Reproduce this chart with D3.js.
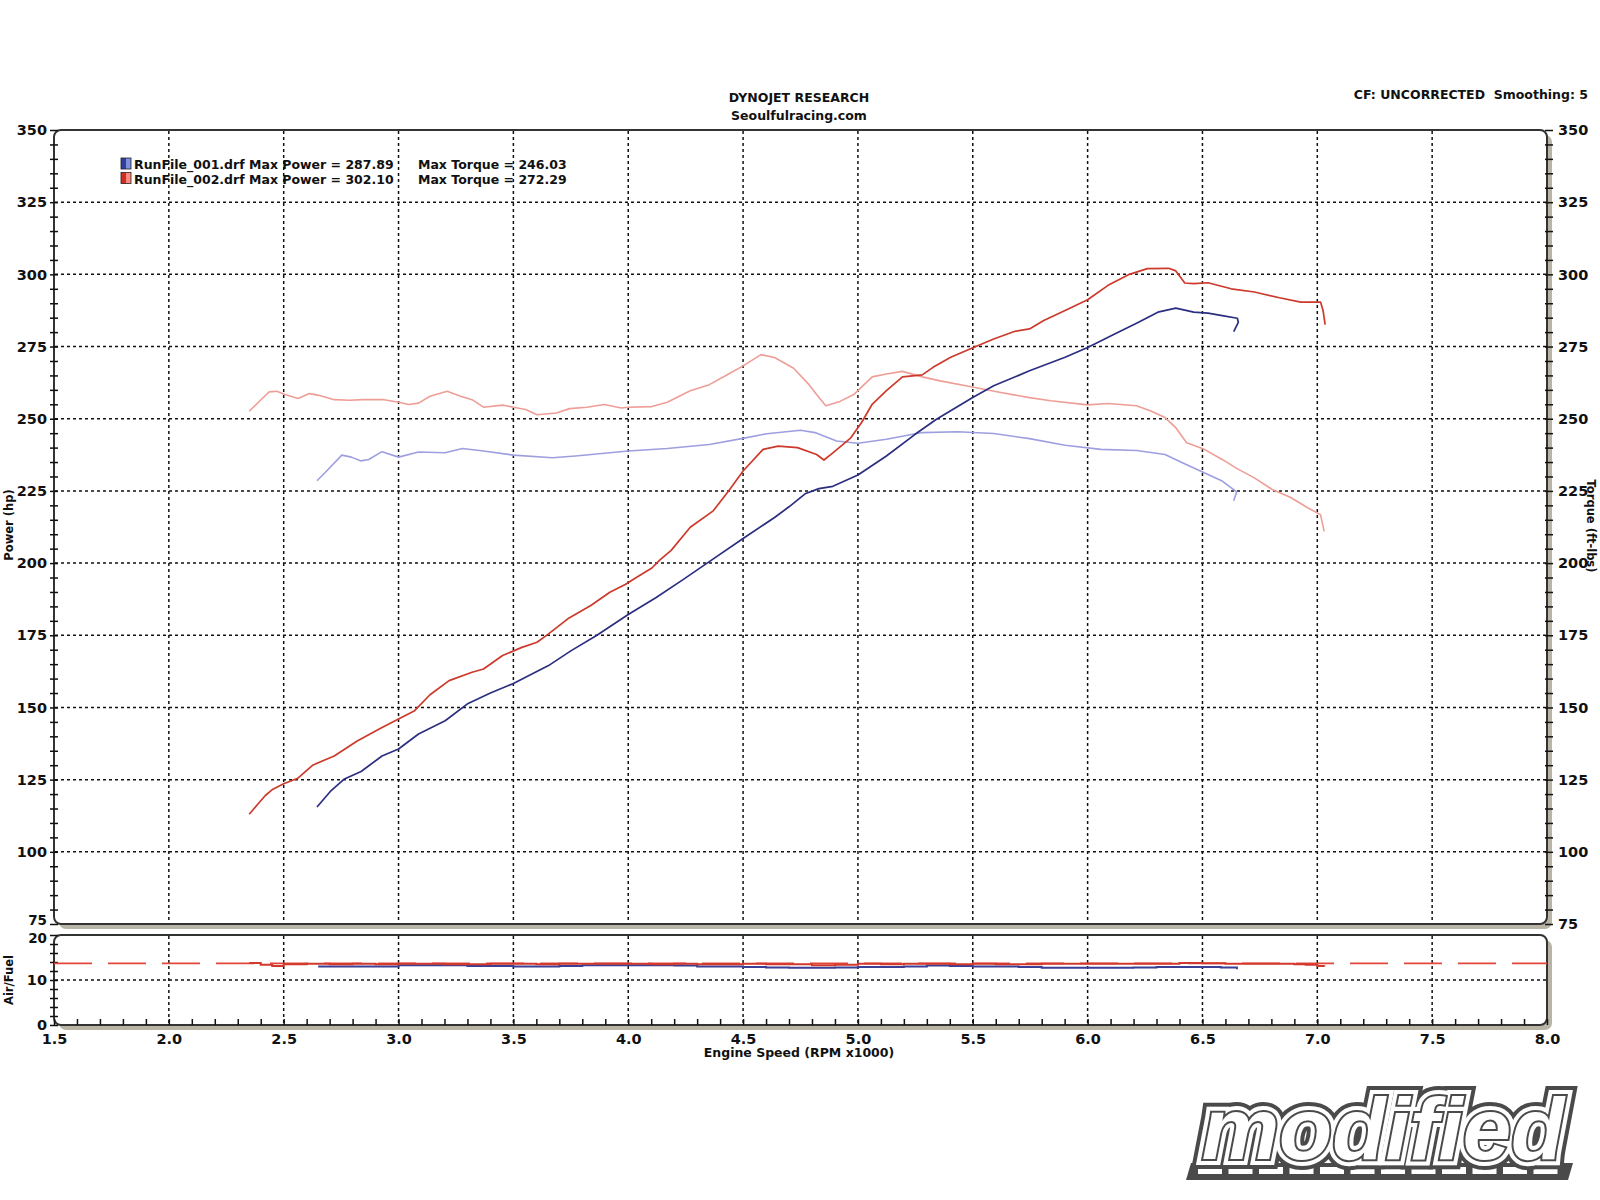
<!DOCTYPE html>
<html><head><meta charset="utf-8">
<script src="https://cdn.jsdelivr.net/npm/d3@7"></script>
<style>
body{margin:0;background:#fff}
svg{display:block}
text{font-family:"DejaVu Sans",Verdana,sans-serif;font-weight:bold;fill:#111}
</style>
</head><body>
<svg id="chart" width="1600" height="1200"></svg>
<script>
// ---------------- DATA ----------------
const titleLines = ["DYNOJET RESEARCH", "Seoulfulracing.com"];
const cfText = "CF: UNCORRECTED  Smoothing: 5";
const xTitle = "Engine Speed (RPM x1000)";
const yTitleLeft = "Power (hp)";
const yTitleRight = "Torque (ft-lbs)";
const afrTitle = "Air/Fuel";
const runNames = ["RunFile_001.drf", "RunFile_002.drf"];
const maxPower = ["287.89", "302.10"];
const maxTorque = ["246.03", "272.29"];
const logoText = "modified";

const rpmDomain = [1.5, 8.0];
const powerDomain = [75, 350];
const afrDomain = [0, 20];
const afrTarget = 13.7;

// [rpm x1000, hp]
const run1Power = [[2.645,115.5],[2.703,120.9],[2.762,125.1],[2.837,127.8],[2.928,133.2],[3.0,135.6],[3.087,140.8],[3.203,145.4],[3.303,151.4],[3.4,155],[3.5,158.3],[3.653,164.5],[3.75,169.6],[3.862,174.9],[4.0,182.2],[4.12,188],[4.237,194.2],[4.353,200.5],[4.5,208.5],[4.637,215.8],[4.7,219.5],[4.77,224],[4.83,225.8],[4.891,226.6],[5.0,230.5],[5.124,237.1],[5.249,244.6],[5.342,249.8],[5.498,257.3],[5.591,261.4],[5.747,266.6],[5.902,271.3],[6.0,274.7],[6.12,279.4],[6.213,283.1],[6.306,286.9],[6.384,288.3],[6.462,286.9],[6.524,286.6],[6.586,285.7],[6.652,284.8],[6.656,283.4],[6.636,280.2]];
const run2Power = [[2.35,113],[2.387,116.5],[2.42,119.5],[2.453,121.7],[2.5,123.6],[2.562,125.5],[2.628,130.1],[2.72,133.2],[2.82,138.4],[2.92,142.7],[3.0,146],[3.07,148.9],[3.137,154.4],[3.22,159.3],[3.32,162.2],[3.37,163.3],[3.453,168],[3.537,170.8],[3.603,172.6],[3.653,175.5],[3.737,180.7],[3.837,185.3],[3.92,189.9],[3.987,192.6],[4.037,195.1],[4.103,198.3],[4.137,201],[4.187,204.4],[4.27,212.4],[4.37,218.1],[4.437,225],[4.5,231.9],[4.587,239.4],[4.653,240.5],[4.737,240],[4.82,237.6],[4.852,235.7],[4.891,238.2],[4.969,243.4],[5.016,248.7],[5.062,255],[5.124,259.7],[5.194,264.5],[5.28,265.2],[5.327,267.8],[5.404,271.3],[5.498,274.5],[5.591,277.6],[5.684,280.3],[5.747,281.1],[5.809,284],[5.902,287.5],[6.0,291.2],[6.089,296.2],[6.182,300],[6.26,302],[6.353,302.1],[6.384,301.2],[6.423,297],[6.462,296.8],[6.524,297.1],[6.625,295],[6.726,293.9],[6.835,291.9],[6.928,290.4],[7.014,290.4],[7.025,287.5],[7.034,282.6]];
// [rpm x1000, ft-lbs]
const run1Torque = [[2.645,228.5],[2.687,231.9],[2.753,237.4],[2.795,236.7],[2.837,235.4],[2.87,235.9],[2.928,238.6],[3.0,236.7],[3.087,238.5],[3.203,238.2],[3.278,239.7],[3.37,238.8],[3.5,237.4],[3.67,236.5],[3.77,237.1],[4.0,238.8],[4.17,239.7],[4.353,241.1],[4.5,243.2],[4.603,244.8],[4.751,246.0],[4.813,245.2],[4.907,242.3],[5.0,241.5],[5.124,242.9],[5.28,245.2],[5.435,245.5],[5.591,244.9],[5.747,243.1],[5.902,240.8],[6.058,239.4],[6.213,239],[6.337,237.6],[6.415,234.7],[6.493,231.8],[6.586,228.4],[6.649,224.7],[6.636,221.6]];
const run2Torque = [[2.35,252.6],[2.40,256.5],[2.437,259.3],[2.47,259.5],[2.5,258.6],[2.562,257],[2.612,258.7],[2.653,258.1],[2.72,256.6],[2.787,256.4],[2.845,256.6],[2.937,256.6],[3.0,255.7],[3.045,254.9],[3.087,255.4],[3.137,257.8],[3.212,259.5],[3.27,257.8],[3.32,256.6],[3.37,254],[3.453,254.7],[3.5,254],[3.553,253.2],[3.603,251.4],[3.687,252],[3.745,253.5],[3.82,254],[3.895,254.9],[3.97,253.7],[4.0,254],[4.103,254.2],[4.17,255.7],[4.27,259.7],[4.353,261.8],[4.437,265.5],[4.5,268.3],[4.578,272.2],[4.637,271.2],[4.72,267.5],[4.787,261.8],[4.813,259.1],[4.86,254.5],[4.922,256],[4.984,258.5],[5.062,264.5],[5.124,265.5],[5.194,266.4],[5.28,264.5],[5.358,263.1],[5.498,261],[5.622,259.1],[5.747,257.3],[5.84,256.2],[6.0,254.8],[6.089,255.3],[6.213,254.5],[6.275,252.7],[6.337,250.4],[6.384,246.9],[6.431,241.7],[6.508,239.4],[6.586,235.9],[6.649,232.8],[6.726,229.5],[6.804,225.5],[6.882,222.8],[6.96,219.1],[7.014,216.8],[7.03,211]];
// [rpm x1000, air/fuel ratio]
const run1AFR = [[2.65,13.0],[2.8,13.0],[2.9,13.0],[3.0,13.3],[3.1,13.3],[3.2,13.3],[3.3,13.1],[3.4,13.1],[3.5,13.0],[3.6,13.0],[3.7,13.1],[3.8,13.3],[3.9,13.3],[4.0,13.3],[4.1,13.3],[4.2,13.2],[4.3,13.0],[4.4,13.0],[4.5,12.9],[4.6,12.8],[4.7,12.7],[4.8,12.7],[4.9,12.8],[5.0,12.9],[5.1,12.9],[5.2,13.0],[5.3,13.2],[5.4,13.1],[5.5,13.0],[5.6,13.0],[5.7,12.9],[5.8,12.7],[5.9,12.7],[6.0,12.7],[6.1,12.7],[6.2,12.8],[6.3,12.9],[6.4,12.9],[6.5,12.9],[6.58,12.8],[6.65,12.4]];
const run2AFR = [[2.35,13.8],[2.4,13.4],[2.45,13.1],[2.5,13.5],[2.6,13.6],[2.7,13.5],[2.8,13.6],[2.9,13.5],[3.0,13.6],[3.1,13.6],[3.2,13.5],[3.3,13.5],[3.4,13.6],[3.5,13.6],[3.6,13.5],[3.7,13.6],[3.8,13.6],[3.9,13.6],[4.0,13.6],[4.1,13.5],[4.2,13.6],[4.3,13.5],[4.4,13.5],[4.5,13.6],[4.6,13.5],[4.7,13.5],[4.8,13.3],[4.9,13.4],[5.0,13.6],[5.1,13.5],[5.2,13.6],[5.3,13.6],[5.4,13.5],[5.5,13.6],[5.6,13.5],[5.7,13.5],[5.8,13.6],[5.9,13.6],[6.0,13.6],[6.1,13.6],[6.2,13.6],[6.3,13.6],[6.4,13.8],[6.5,13.7],[6.6,13.6],[6.7,13.6],[6.8,13.6],[6.9,13.5],[6.95,13.4],[7.0,13.1],[7.03,13.0]];

const rpmMajor = d3.range(15, 81, 5).map(d => d / 10);
const rpmMinor = d3.range(15, 81, 1).map(d => d / 10);
const powerMajor = d3.range(75, 351, 25);
const powerMinor = d3.range(75, 351, 5);
const afrMajor = [0, 10, 20];
const afrMinor = d3.range(0, 21, 2);

// ---------------- LAYOUT ----------------
const svg = d3.select("#chart");
const L = 54, R = 1547, T = 130, B = 924, AT = 935, AB = 1025;
const x = d3.scaleLinear().domain(rpmDomain).range([L, R]);
const y = d3.scaleLinear().domain(powerDomain).range([B, T]);
const ya = d3.scaleLinear().domain(afrDomain).range([AB, AT]);
const shadow = "#b8b4a6", frame = "#333";

function panel(y0, y1) {
  svg.append("rect").attr("x", L + 5).attr("y", y0 + 5).attr("width", R - L).attr("height", y1 - y0)
    .attr("rx", 7).attr("fill", shadow);
  svg.append("rect").attr("x", L).attr("y", y0).attr("width", R - L).attr("height", y1 - y0)
    .attr("rx", 7).attr("fill", "#fff").attr("stroke", frame).attr("stroke-width", 2);
}
panel(T, B);
panel(AT, AB);

// grid
const dash = "3,3";
const gMain = svg.append("g");
gMain.selectAll(".vg").data(rpmMajor.slice(1, -1)).join("line")
  .attr("x1", d => x(d)).attr("x2", d => x(d)).attr("y1", T + 1).attr("y2", B - 1)
  .attr("stroke", "#111").attr("stroke-width", 1.5).attr("stroke-dasharray", dash);
gMain.selectAll(".hg").data(powerMajor.slice(1, -1)).join("line")
  .attr("x1", L + 1).attr("x2", R - 1).attr("y1", d => y(d)).attr("y2", d => y(d))
  .attr("stroke", "#111").attr("stroke-width", 1.5).attr("stroke-dasharray", dash);
const gAfr = svg.append("g");
gAfr.selectAll(".vg").data(rpmMajor.slice(1, -1)).join("line")
  .attr("x1", d => x(d)).attr("x2", d => x(d)).attr("y1", AT + 1).attr("y2", AB - 1)
  .attr("stroke", "#111").attr("stroke-width", 1.5).attr("stroke-dasharray", dash);
gAfr.selectAll(".hg").data([10]).join("line")
  .attr("x1", L + 1).attr("x2", R - 1).attr("y1", d => ya(d)).attr("y2", d => ya(d))
  .attr("stroke", "#111").attr("stroke-width", 1.5).attr("stroke-dasharray", dash);

// axes
function styleAxis(g, fs) {
  g.select(".domain").remove();
  g.selectAll("line").attr("stroke", "#111").attr("stroke-width", 1.5);
  g.selectAll("text").attr("font-size", fs).attr("font-family", "DejaVu Sans, Verdana, sans-serif")
    .attr("font-weight", "bold").attr("fill", "#111");
}
const isMaj = (arr) => d => arr.some(m => Math.abs(m - d) < 1e-6);
const left = svg.append("g").attr("transform", `translate(${L},0)`)
  .call(d3.axisLeft(y).tickValues(powerMinor).tickSize(4).tickPadding(3)
    .tickFormat(d => isMaj(powerMajor)(d) ? d : ""));
left.selectAll(".tick line").attr("x1", 4);
styleAxis(left, 14.5);
left.selectAll(".tick").filter(d => d === 75).select("text").attr("dy", "0.05em").attr("font-size", 13.5);

const right = svg.append("g").attr("transform", `translate(${R + 2},0)`)
  .call(d3.axisRight(y).tickValues(powerMinor).tickSize(4).tickPadding(5)
    .tickFormat(d => isMaj(powerMajor)(d) ? d : ""));
right.selectAll(".tick line").attr("x1", -4);
styleAxis(right, 14.5);

const afrAxis = svg.append("g").attr("transform", `translate(${L},0)`)
  .call(d3.axisLeft(ya).tickValues(afrMinor).tickSize(4).tickPadding(3)
    .tickFormat(d => isMaj(afrMajor)(d) ? d : ""));
afrAxis.selectAll(".tick line").attr("x1", 4);
styleAxis(afrAxis, 14.5);
afrAxis.selectAll(".tick").filter(d => d === 20).select("text").attr("dy", "0.55em").attr("font-size", 13.5);

const bottom = svg.append("g").attr("transform", `translate(0,${AB})`)
  .call(d3.axisBottom(x).tickValues(rpmMinor).tickSize(-6).tickPadding(9)
    .tickFormat(d => isMaj(rpmMajor)(d) ? d3.format(".1f")(d) : ""));
styleAxis(bottom, 14.5);
bottom.selectAll(".tick line").attr("y2", -6).attr("y1", 0);

const line = d3.line().x(d => x(d[0])).y(d => y(d[1]));
const lineA = d3.line().x(d => x(d[0])).y(d => ya(d[1])).curve(d3.curveStepAfter);

// curves
const curves = [
  {data: run2Torque, color: "#ee9e96", w: 1.6},
  {data: run1Torque, color: "#9d9fe0", w: 1.6},
  {data: run1Power, color: "#2c2e80", w: 1.7},
  {data: run2Power, color: "#cc3a2c", w: 1.7}
];
svg.append("g").selectAll("path").data(curves).join("path")
  .attr("d", d => line(d.data)).attr("fill", "none")
  .attr("stroke", d => d.color).attr("stroke-width", d => d.w).attr("stroke-linejoin", "round");

// AFR
svg.append("line").attr("x1", x(rpmDomain[0])).attr("x2", x(rpmDomain[1]))
  .attr("y1", ya(afrTarget)).attr("y2", ya(afrTarget))
  .attr("stroke", "#e2463a").attr("stroke-width", 1.6).attr("stroke-dasharray", "38,16");
svg.append("path").attr("d", lineA(run1AFR)).attr("fill", "none").attr("stroke", "#3b3f96").attr("stroke-width", 2);
svg.append("path").attr("d", lineA(run2AFR)).attr("fill", "none").attr("stroke", "#d2382c").attr("stroke-width", 2);

// titles
svg.append("text").attr("x", 799).attr("y", 102).attr("text-anchor", "middle").attr("font-size", 12.5).text(titleLines[0]);
svg.append("text").attr("x", 799).attr("y", 119.5).attr("text-anchor", "middle").attr("font-size", 12.5).text(titleLines[1]);
svg.append("text").attr("x", 1588).attr("y", 99).attr("text-anchor", "end").attr("font-size", 12.5)
  .style("white-space", "pre").text(cfText);
svg.append("text").attr("x", 799).attr("y", 1057).attr("text-anchor", "middle").attr("font-size", 12.5).text(xTitle);
svg.append("text").attr("transform", "translate(12.5,525) rotate(-90)").attr("text-anchor", "middle").attr("font-size", 11.5).text(yTitleLeft);
svg.append("text").attr("transform", "translate(1587,526) rotate(90)").attr("text-anchor", "middle").attr("font-size", 11.5).text(yTitleRight);
svg.append("text").attr("transform", "translate(12.5,980) rotate(-90)").attr("text-anchor", "middle").attr("font-size", 11.5).text(afrTitle);

// legend
const swatch = [["#2f3f9e", "#7f8fdc"], ["#d42a22", "#ff8a80"]];
const defs = svg.append("defs");
swatch.forEach((c, i) => {
  const gr = defs.append("linearGradient").attr("id", "sw" + i);
  gr.append("stop").attr("offset", "0").attr("stop-color", c[0]);
  gr.append("stop").attr("offset", "0.5").attr("stop-color", c[0]);
  gr.append("stop").attr("offset", "0.5").attr("stop-color", c[1]);
  gr.append("stop").attr("offset", "1").attr("stop-color", c[1]);
});
runNames.forEach((n, i) => {
  const yy = 169 + i * 14.5;
  svg.append("rect").attr("x", 121).attr("y", yy - 11).attr("width", 10).attr("height", 11)
    .attr("fill", `url(#sw${i})`).attr("stroke", "#222").attr("stroke-width", 0.8);
  svg.append("text").attr("x", 134).attr("y", yy).attr("font-size", 12.5)
    .text(`${n} Max Power = ${maxPower[i]}`);
  svg.append("text").attr("x", 418).attr("y", yy).attr("font-size", 12.5)
    .text(`Max Torque = ${maxTorque[i]}`);
});

// logo
const logo = svg.append("g");
logo.append("polygon")
  .attr("points", "1186,1180 1568,1180 1573,1163 1191,1163").attr("fill", "#4a4a4a");
logo.selectAll(".dsh").data(d3.range(12)).join("rect")
  .attr("x", d => 1198 + d * 30.5).attr("y", 1167).attr("width", 24).attr("height", 7)
  .attr("fill", "#fff");
[{sw: 20, s: "#4a4a4a"}, {sw: 12, s: "#fff"}, {sw: 4, s: "#4a4a4a"}].forEach(l => {
  logo.append("text").attr("x", 1383).attr("y", 1159).attr("text-anchor", "middle")
    .style("font-family", "'Liberation Sans', Arial, sans-serif").style("font-style", "italic")
    .style("font-weight", "bold").style("font-size", "87px")
    .style("fill", "#fff").style("stroke", l.s).style("stroke-width", l.sw)
    .style("stroke-linejoin", "miter").style("paint-order", "stroke").text(logoText);
});
</script>
</body></html>
